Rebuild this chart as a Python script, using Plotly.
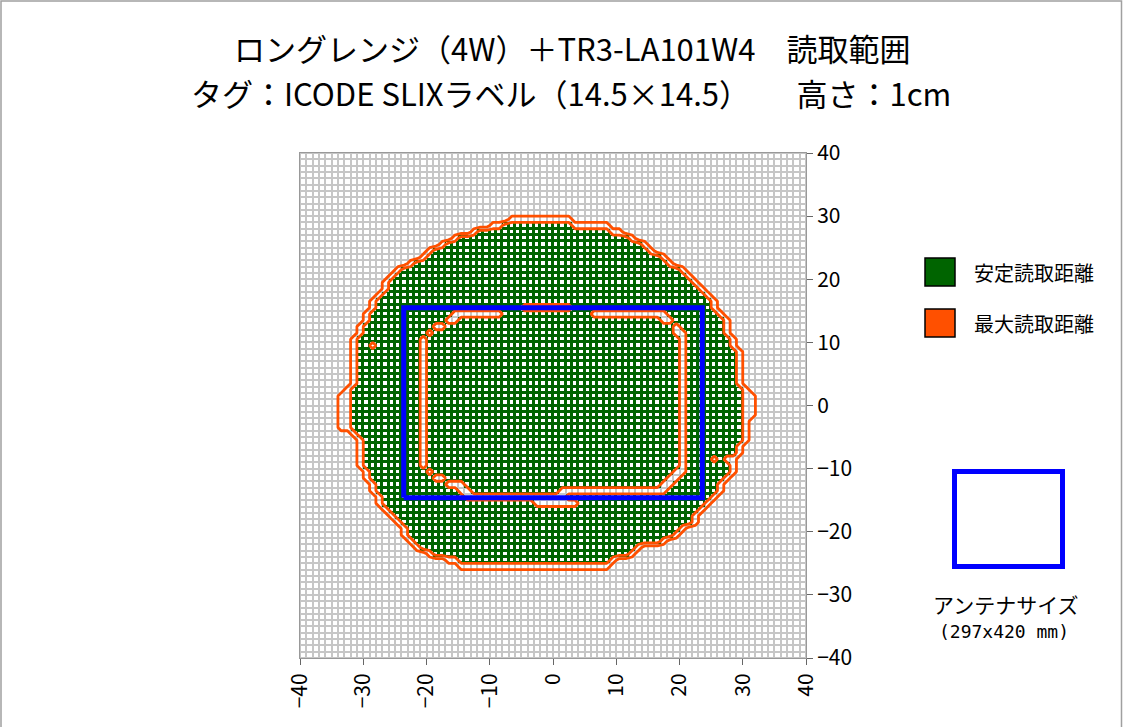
import numpy as np
import plotly.graph_objects as go

# ---------------- data ----------------
title_line1 = "ロングレンジ（4W）＋TR3-LA101W4　読取範囲"
title_line2 = "タグ：ICODE SLIXラベル（14.5×14.5）　　高さ：1cm"
legend_labels = ["安定読取距離", "最大読取距離"]
antenna_label = "アンテナサイズ"
antenna_size_label = "(297x420 mm)"

tick_values = [-40, -30, -20, -10, 0, 10, 20, 30, 40]

# row (lower edge of 1-unit cell row), outer edges of max-read area, edges of stable-read area
rows_j = list(range(29, -27, -1))
outer_left = [-7, -10, -13, -16, -18, -20, -21, -23, -25, -26, -27, -27, -28, -29, -29, -30,
              -30, -31, -31, -32, -32, -32, -32, -32, -32, -32, -32, -33, -34, -34, -34, -34,
              -34, -34, -32, -31, -31, -31, -31, -31, -30, -30, -29, -29, -28, -28, -27, -26,
              -25, -24, -24, -23, -22, -20, -17, -15]
outer_right = [3, 9, 11, 13, 15, 16, 18, 19, 21, 22, 23, 24, 25, 26, 26, 27,
               28, 28, 28, 29, 29, 30, 30, 30, 30, 30, 30, 31, 32, 32, 32, 32,
               31, 31, 31, 31, 30, 30, 29, 29, 29, 28, 27, 27, 26, 25, 24, 23,
               23, 21, 20, 18, 14, 13, 10, 9]
green_left = [0, -8, -12, -15, -17, -19, -20, -22, -24, -25, -26, -26, -27, -28, -28, -29,
              -29, -30, -30, -31, -31, -31, -31, -31, -31, -31, -31, -32, -32, -32, -32, -32,
              -32, -32, -31, -30, -30, -30, -30, -30, -29, -29, -28, -28, -27, -27, -26, -25,
              -24, -23, -23, -22, -21, -19, -15, 0]
green_right = [0, 3, 9, 12, 14, 15, 17, 18, 20, 21, 22, 23, 24, 25, 25, 26,
               27, 27, 27, 28, 28, 29, 29, 29, 29, 29, 29, 30, 30, 30, 30, 30,
               30, 30, 30, 30, 29, 29, 28, 28, 28, 27, 26, 26, 25, 24, 23, 22,
               22, 20, 19, 17, 13, 12, 9, 0]

# inner max-only cells (x from, x to, row from, row to; inclusive cell indices)
inner_x0 = [-21, -20, -19, -17, -16, -5, 6, 17, 19, 19, 20, 19, 18, 17, 1, -14, -3, -20, -19, -17, -15]
inner_x1 = [-21, -20, -18, -16, -9, 2, 17, 18, 19, 20, 20, 20, 19, 18, 17, 1, 3, -20, -18, -15, -14]
inner_j0 = [-10, 11, 12, 13, 14, 15, 14, 13, 12, 11, -10, -11, -12, -13, -14, -15, -16, -11, -12, -13, -14]
inner_j1 = [10, 11, 12, 13, 14, 15, 14, 13, 12, 11, 10, -11, -12, -13, -14, -15, -16, -11, -12, -13, -14]
dot_x = [-29, 25, 27]
dot_j = [9, -9, -9]

# antenna outline (x, y)
antenna_x = [-23.6, 23.6, 23.6, -23.6, -23.6]
antenna_y = [-14.6, -14.6, 15.5, 15.5, -14.6]

# ---------------- styling ----------------
GREEN = "#006400"
ORANGE = "#FF5000"
BLUE = "#0000FF"
GRID = "#C6C6C6"
FONT = "Noto Sans CJK JP"

# ---------------- build the cell grid ----------------
N = 80
state = np.zeros((N, N))
for j, ol, orr, gl, gr in zip(rows_j, outer_left, outer_right, green_left, green_right):
    r = j + 40
    state[r, ol + 40:orr + 40] = 1
    if gr > gl:
        state[r, gl + 40:gr + 40] = 2
for x0, x1, j0, j1 in zip(inner_x0, inner_x1, inner_j0, inner_j1):
    state[j0 + 40:j1 + 41, x0 + 40:x1 + 41] = 1
for x, j in zip(dot_x, dot_j):
    state[j + 40, x + 40] = 1

centers = np.arange(-39.5, 40, 1.0)
is_green = state == 2

fig = go.Figure()
fig.add_trace(go.Heatmap(x=centers, y=centers, z=is_green.astype(float),
                         colorscale=[[0, GRID], [1, GREEN]], zmin=0, zmax=1,
                         showscale=False, hoverinfo="skip"))
fig.add_trace(go.Heatmap(x=centers, y=centers, z=np.where(is_green, np.nan, 1.0),
                         colorscale=[[0, "white"], [1, "white"]], xgap=2, ygap=2,
                         showscale=False, hoverinfo="skip"))
fig.add_trace(go.Heatmap(x=centers, y=centers, z=np.where(is_green, 1.0, np.nan),
                         colorscale=[[0, "white"], [1, "white"]], xgap=3, ygap=3,
                         showscale=False, hoverinfo="skip"))
fig.add_trace(go.Contour(x=centers, y=centers, z=state,
                         contours=dict(start=0.5, end=1.5, size=1, coloring="none"),
                         line=dict(color=ORANGE, width=2.8, smoothing=0),
                         showscale=False, hoverinfo="skip"))
fig.add_trace(go.Scatter(x=antenna_x, y=antenna_y, mode="lines",
                         line=dict(color=BLUE, width=5), hoverinfo="skip", showlegend=False))

# ---------------- layout ----------------
W, H = 1123, 727
L, R, T, B = 300, 806, 153, 658


def px(xp):
    return (xp - L) / (R - L)


def py(yp):
    return (B - yp) / (B - T)


axis_common = dict(range=[-40, 40], tickvals=tick_values, ticks="outside", ticklen=6,
                   tickcolor="#666", showgrid=False, zeroline=False, showline=True,
                   linecolor="#999", linewidth=1, mirror=True,
                   tickfont=dict(family=FONT, size=21, color="black"))

fig.update_layout(
    width=W, height=H,
    margin=dict(l=L, r=W - R, t=T, b=H - B),
    paper_bgcolor="white", plot_bgcolor="white",
    showlegend=False,
    xaxis=dict(**axis_common, tickangle=-90),
    yaxis=dict(**axis_common, side="right"),
    font=dict(family=FONT),
)

shapes = [
    dict(type="rect", xref="paper", yref="paper", x0=px(1), x1=px(W - 1.5), y0=py(H + 5), y1=py(1),
         line=dict(color="#A0A0A0", width=1.5), fillcolor="rgba(0,0,0,0)"),
    dict(type="rect", xref="paper", yref="paper", x0=px(925), x1=px(955), y0=py(286), y1=py(258),
         line=dict(color="black", width=1.5), fillcolor=GREEN),
    dict(type="rect", xref="paper", yref="paper", x0=px(925), x1=px(955), y0=py(337), y1=py(309),
         line=dict(color="black", width=1.5), fillcolor=ORANGE),
    dict(type="rect", xref="paper", yref="paper", x0=px(954.5), x1=px(1062.5), y0=py(566.5), y1=py(471.5),
         line=dict(color=BLUE, width=5), fillcolor="rgba(0,0,0,0)"),
]

annotations = [
    dict(text=title_line1, x=px(572), y=py(47), xref="paper", yref="paper", showarrow=False,
         xanchor="center", yanchor="middle", font=dict(size=31, color="black", family=FONT)),
    dict(text=title_line2, x=px(571), y=py(93), xref="paper", yref="paper", showarrow=False,
         xanchor="center", yanchor="middle", font=dict(size=31, color="black", family=FONT)),
    dict(text=legend_labels[0], x=px(972), y=py(272), xref="paper", yref="paper", showarrow=False,
         xanchor="left", yanchor="middle", font=dict(size=20, color="black", family=FONT)),
    dict(text=legend_labels[1], x=px(972), y=py(323), xref="paper", yref="paper", showarrow=False,
         xanchor="left", yanchor="middle", font=dict(size=20, color="black", family=FONT)),
    dict(text=antenna_label, x=px(1006), y=py(604), xref="paper", yref="paper", showarrow=False,
         xanchor="center", yanchor="middle", font=dict(size=21, color="black", family=FONT)),
    dict(text=antenna_size_label, x=px(1004), y=py(631), xref="paper", yref="paper", showarrow=False,
         xanchor="center", yanchor="middle", font=dict(size=18, color="black", family="DejaVu Sans Mono")),
]
fig.update_layout(shapes=shapes, annotations=annotations)

fig.write_html("out.html", config={"displayModeBar": False},
               post_script="document.body.style.margin='0';document.body.style.overflow='hidden';")
